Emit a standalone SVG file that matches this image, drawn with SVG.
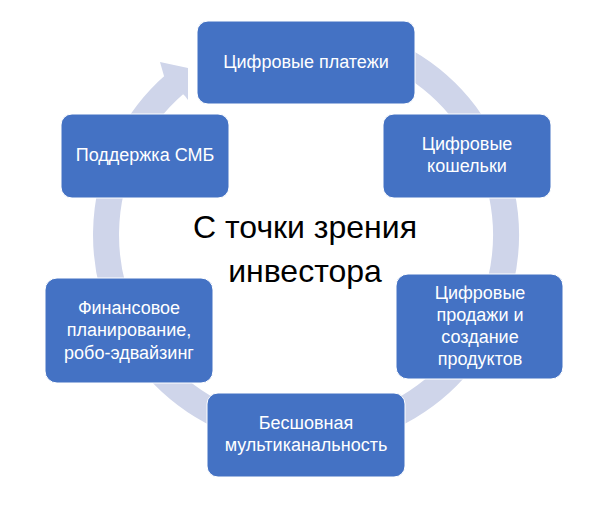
<svg xmlns="http://www.w3.org/2000/svg" width="603" height="506" viewBox="0 0 603 506">
<style>
.node rect{fill:#4472C4;stroke:#ffffff;stroke-width:1}
.node text{fill:#ffffff;font-family:"Liberation Sans",Arial,sans-serif;font-size:18px;text-anchor:middle}
.ring{fill:none;stroke:#CFD5EA;stroke-width:26}
.head{fill:#CFD5EA}
.title{fill:#000000;font-family:"Liberation Sans",Arial,sans-serif;font-size:32px;text-anchor:middle}
</style>
<rect width="603" height="506" fill="#ffffff"/>
<g id="connectors">
<path class="ring" d="M 406 61.8 A 200 200 0 1 1 174.8 84.1"/>
<polygon class="head" points="164,76 160,62 188,68 188,100 185,96"/>
</g>
<g id="center-label">
<text class="title" x="305" y="238">С точки зрения</text>
<text class="title" x="305" y="282">инвестора</text>
</g>
<g id="node-payments" class="node">
<rect x="197" y="21" width="218" height="83" rx="11"/>
<text x="306" y="68">Цифровые платежи</text>
</g>
<g id="node-wallets" class="node">
<rect x="383" y="114" width="168" height="84" rx="11"/>
<text x="467" y="150">Цифровые</text>
<text x="467" y="172">кошельки</text>
</g>
<g id="node-sales" class="node">
<rect x="396" y="274" width="167" height="105" rx="12"/>
<text x="480" y="299">Цифровые</text>
<text x="480" y="321">продажи и</text>
<text x="480" y="343">создание</text>
<text x="480" y="365">продуктов</text>
</g>
<g id="node-omnichannel" class="node">
<rect x="207" y="393" width="198" height="84" rx="11"/>
<text x="306" y="429">Бесшовная</text>
<text x="306" y="451">мультиканальность</text>
</g>
<g id="node-planning" class="node">
<rect x="45" y="278" width="168" height="105" rx="12"/>
<text x="129" y="314">Финансовое</text>
<text x="129" y="336">планирование,</text>
<text x="129" y="359">робо-эдвайзинг</text>
</g>
<g id="node-smb" class="node">
<rect x="61" y="114" width="168" height="84" rx="11"/>
<text x="145" y="161">Поддержка СМБ</text>
</g>
</svg>
